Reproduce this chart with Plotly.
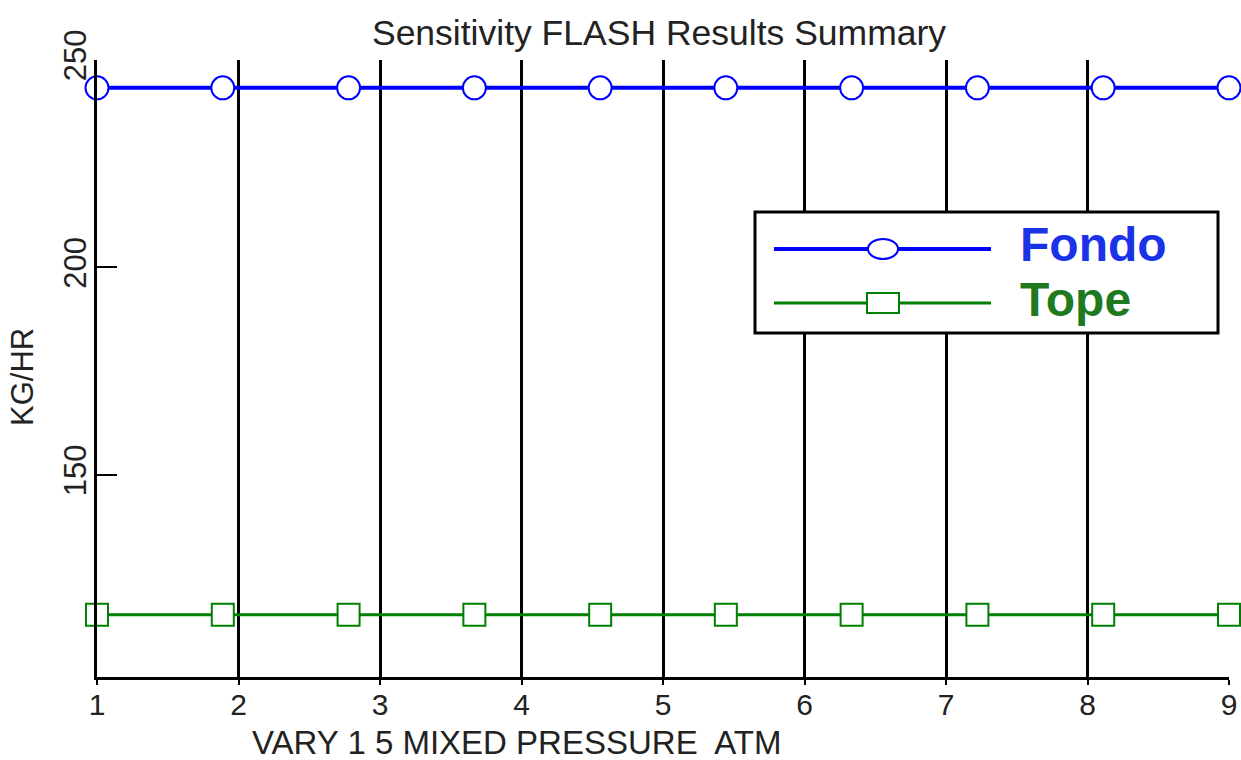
import plotly.graph_objects as go

# Data
x_vals = [1.0, 1.889, 2.778, 3.667, 4.556, 5.444, 6.333, 7.222, 8.111, 9.0]
fondo = [243.3] * 10
tope = [116.3] * 10
x_ticks = [1, 2, 3, 4, 5, 6, 7, 8, 9]
y_ticks = [150, 200, 250]

FONT = "Liberation Sans, Arial, sans-serif"
BLUE = "#0000ff"
GREEN = "#008000"

fig = go.Figure()
fig.add_trace(go.Scatter(
    x=x_vals, y=fondo, mode="lines+markers", name="Fondo",
    line=dict(color=BLUE, width=4),
    marker=dict(symbol="circle", size=23, color="white",
                line=dict(color=BLUE, width=2)),
    cliponaxis=False, showlegend=False))
fig.add_trace(go.Scatter(
    x=x_vals, y=tope, mode="lines+markers", name="Tope",
    line=dict(color=GREEN, width=3),
    marker=dict(symbol="square", size=22, color="white",
                line=dict(color=GREEN, width=2)),
    cliponaxis=False, showlegend=False))

W, H = 1241, 760
PL, PR, PT, PB = 97, 1229, 60, 677
L, T, R, B = PL, PT, W - PR, H - PB

def px(xp):
    return (xp - PL) / (PR - PL)

def py(yp):
    return (PB - yp) / (PB - PT)

shapes = []
shapes.append(dict(type="rect", xref="paper", yref="paper",
                   x0=px(755), x1=px(1218), y0=py(333), y1=py(212),
                   line=dict(color="black", width=3), fillcolor="white", layer="above"))
shapes.append(dict(type="line", xref="paper", yref="paper",
                   x0=px(774), x1=px(991), y0=py(249), y1=py(249),
                   line=dict(color=BLUE, width=4), layer="above"))
shapes.append(dict(type="circle", xref="paper", yref="paper",
                   x0=px(868), x1=px(898), y0=py(259), y1=py(239),
                   line=dict(color=BLUE, width=2), fillcolor="white", layer="above"))
shapes.append(dict(type="line", xref="paper", yref="paper",
                   x0=px(774), x1=px(991), y0=py(303), y1=py(303),
                   line=dict(color=GREEN, width=3), layer="above"))
shapes.append(dict(type="rect", xref="paper", yref="paper",
                   x0=px(867), x1=px(899), y0=py(313), y1=py(293),
                   line=dict(color=GREEN, width=2), fillcolor="white", layer="above"))

annotations = [
    dict(text="<b>Fondo</b>", xref="paper", yref="paper", x=px(1018), y=py(245),
         xanchor="left", yanchor="middle", showarrow=False,
         font=dict(family=FONT, size=48, color="#1a33e6")),
    dict(text="<b>Tope</b>", xref="paper", yref="paper", x=px(1018), y=py(299),
         xanchor="left", yanchor="middle", showarrow=False,
         font=dict(family=FONT, size=48, color="#1f7a1f")),
    # axis titles
    dict(text="VARY 1 5 MIXED PRESSURE  ATM", xref="paper", yref="paper",
         x=px(516), y=py(742), xanchor="center", yanchor="middle", showarrow=False,
         font=dict(family=FONT, size=33, color="#222")),
    dict(text="KG/HR", xref="paper", yref="paper", textangle=-90,
         x=px(22), y=py(377), xanchor="center", yanchor="middle", showarrow=False,
         font=dict(family=FONT, size=31, color="#222")),
]

fig.update_layout(
    width=W, height=H, autosize=False,
    margin=dict(l=L, r=R, t=T, b=B, pad=0),
    paper_bgcolor="white", plot_bgcolor="white",
    title=dict(text="Sensitivity FLASH Results Summary", x=659 / W,
               xanchor="center", y=1 - 33 / H, yanchor="middle",
               font=dict(family=FONT, size=35.5, color="#222")),
    shapes=shapes, annotations=annotations,
    xaxis=dict(range=[1, 9], tickvals=x_ticks, showgrid=True, gridcolor="black",
               gridwidth=2.5, showline=True, linecolor="black", linewidth=3,
               ticks="outside", ticklen=5, tickcolor="black", tickwidth=2,
               ticklabelstandoff=-6,
               tickfont=dict(family=FONT, size=30, color="#222"),
               automargin=False, zeroline=False),
    yaxis=dict(range=[101.3, 250], tickvals=y_ticks, showgrid=False,
               showline=True, linecolor="black", linewidth=3,
               ticks="inside", ticklen=20, tickcolor="black", tickwidth=2,
               tickangle=-90, ticklabelstandoff=-4,
               tickfont=dict(family=FONT, size=31, color="#222"),
               automargin=False, zeroline=False),
)

fig.write_html("out.html", config={"displayModeBar": False},
               post_script="document.body.style.margin='0';"
                           "document.body.style.overflow='hidden';")
